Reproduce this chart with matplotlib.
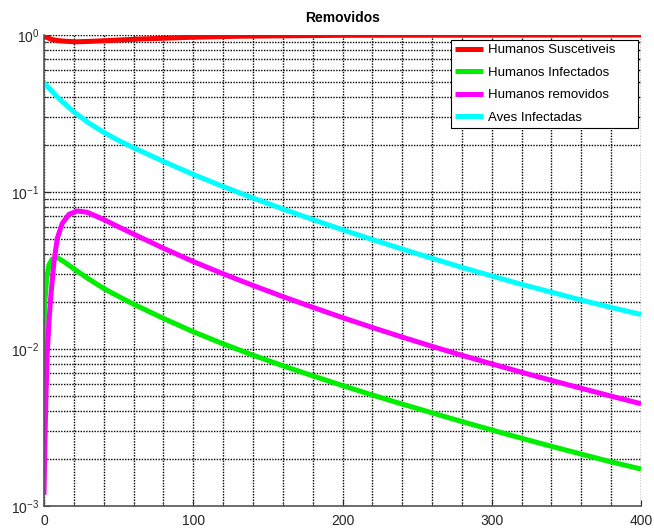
import matplotlib
matplotlib.use("Agg")
import matplotlib.pyplot as plt
from matplotlib.ticker import LogLocator, MultipleLocator, NullFormatter

plt.rcParams['font.family'] = ['Liberation Sans', 'DejaVu Sans']

title = "Removidos"
labels = ["Humanos Suscetiveis", "Humanos Infectados", "Humanos removidos", "Aves Infectadas"]
colors = ["#ff0000", "#00ee00", "#ff00ff", "#00ffff"]

# Humanos Suscetiveis
t_s = [0, 3, 5.8, 10, 14.7, 21, 30, 41, 63.5, 97, 130, 197, 300, 400]
v_s = [0.985, 0.955, 0.933, 0.92, 0.912, 0.905, 0.91, 0.92, 0.942, 0.966, 0.982, 0.995, 0.998, 1.0]

# Humanos Infectados
t_i = [0, 0.4, 1.8, 3.3, 5.5, 8.9, 13.3, 20, 30, 40, 50, 60, 80, 100, 120, 140, 160, 180, 200,
       220, 240, 260, 280, 300, 320, 340, 360, 380, 400]
v_i = [0.0101, 0.019, 0.028, 0.0343, 0.0374, 0.0382, 0.036, 0.0324, 0.0279, 0.0243, 0.0216,
       0.0193, 0.01567, 0.01288, 0.01079, 0.00914, 0.00782, 0.00675, 0.00585, 0.00509, 0.00446,
       0.00392, 0.00345, 0.00305, 0.0027, 0.0024, 0.00214, 0.00191, 0.00172]

# Humanos removidos
t_r = [0, 0.6, 1.3, 2.1, 3.3, 4.5, 6.7, 8.9, 12.2, 16.7, 22.2, 28.9, 40, 50, 60, 80, 100, 120,
       140, 160, 180, 200, 220, 240, 260, 280, 300, 320, 340, 360, 380, 400]
v_r = [0.00118, 0.0025, 0.005, 0.0091, 0.0148, 0.0214, 0.036, 0.0507, 0.063, 0.0721, 0.0757,
       0.0743, 0.0668, 0.05998, 0.05395, 0.04385, 0.03606, 0.03013, 0.02541, 0.02158, 0.01845,
       0.01585, 0.01371, 0.01191, 0.0104, 0.00912, 0.00804, 0.00711, 0.00631, 0.00562, 0.00501,
       0.00448]

# Aves Infectadas
t_a = [0, 10, 20, 30, 40, 50, 60, 80, 100, 120, 140, 160, 180, 200, 220, 240, 260, 280, 300,
       320, 340, 360, 380, 400]
v_a = [0.4955, 0.3936, 0.3236, 0.2754, 0.2399, 0.2128, 0.1914, 0.1567, 0.1294, 0.1084, 0.0916,
       0.078, 0.0668, 0.0575, 0.0498, 0.0433, 0.0378, 0.0331, 0.0292, 0.0258, 0.023, 0.0205,
       0.0184, 0.0166]

series = [(t_s, v_s), (t_i, v_i), (t_r, v_r), (t_a, v_a)]

fig = plt.figure(figsize=(6.54, 5.31), dpi=100)
ax = fig.add_axes([44/654, 25/531, (641-44)/654, (506-35)/531])

for (t, v), c, lab in zip(series, colors, labels):
    ax.plot(t, v, color=c, lw=3.6, label=lab, solid_capstyle='butt', solid_joinstyle='round')

ax.set_yscale('log')
ax.set_xlim(0, 400)
ax.set_ylim(1e-3, 1)
ax.xaxis.set_major_locator(MultipleLocator(100))
ax.xaxis.set_minor_locator(MultipleLocator(20))
ax.yaxis.set_major_locator(LogLocator(base=10, numticks=10))
ax.yaxis.set_minor_locator(LogLocator(base=10, subs=range(2, 10), numticks=20))
ax.yaxis.set_minor_formatter(NullFormatter())

ax.grid(True, which='both', color='black', linestyle=(0, (1, 1)), linewidth=1.0)
ax.set_axisbelow(True)

for s in ['top', 'right']:
    ax.spines[s].set_visible(False)
for s in ['left', 'bottom']:
    ax.spines[s].set_color('#555555')
    ax.spines[s].set_linewidth(1.2)

ax.tick_params(which='both', direction='in', colors='#262626', labelsize=10)
ax.tick_params(axis='x', pad=6)
ax.tick_params(which='major', length=4)
ax.tick_params(which='minor', length=2)

ax.set_title(title, fontsize=10, fontweight='bold', pad=9)

leg = ax.legend(loc='upper left', bbox_to_anchor=(0.682, 0.0, 0.313, 0.989), mode='expand',
                fontsize=9.5, frameon=True, fancybox=False,
                edgecolor='black', framealpha=1, handlelength=2.1, handletextpad=0.4,
                labelspacing=0.78, borderpad=0.3, borderaxespad=0.0)
leg.get_frame().set_linewidth(0.8)

fig.savefig("out.png", dpi=100)
